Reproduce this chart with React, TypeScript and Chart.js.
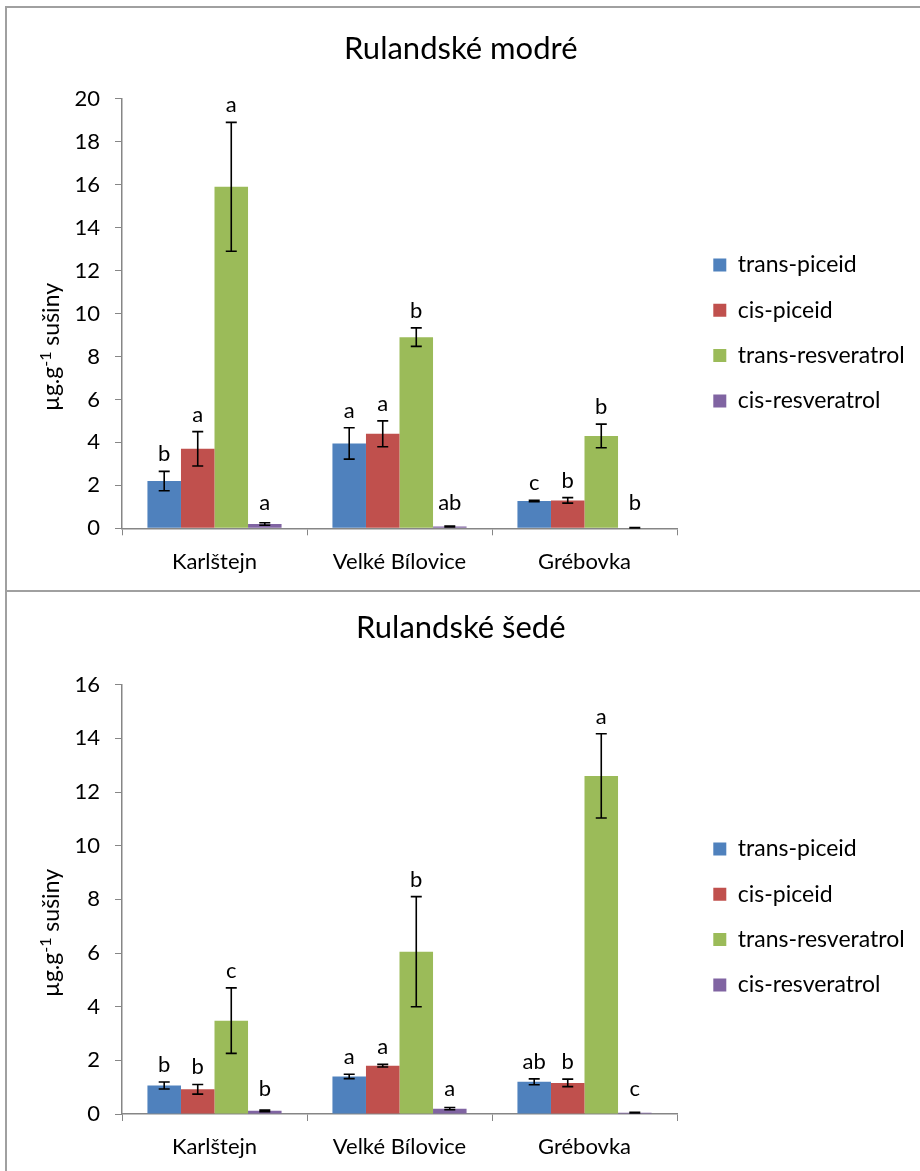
import React, { useEffect, useRef } from 'react';
import { Chart, registerables } from 'chart.js';

Chart.register(...registerables);

// ---------- data ----------
const categories = ['Karlštejn', 'Velké Bílovice', 'Grébovka'];
const seriesNames = ['trans-piceid', 'cis-piceid', 'trans-resveratrol', 'cis-resveratrol'];
const seriesColors = ['#4F81BD', '#C0504D', '#9BBB59', '#8064A2'];

// Rulandské modré
const modreTitle = 'Rulandské modré';
const modreYMax = 20;
const modreTransPiceid = [2.2, 3.95, 1.27];
const modreCisPiceid = [3.7, 4.4, 1.3];
const modreTransResveratrol = [15.9, 8.9, 4.3];
const modreCisResveratrol = [0.2, 0.08, 0.03];
const modreTransPiceidErr = [0.45, 0.73, 0.03];
const modreCisPiceidErr = [0.8, 0.6, 0.13];
const modreTransResveratrolErr = [3.0, 0.43, 0.55];
const modreCisResveratrolErr = [0.06, 0.02, 0.01];
const modreTransPiceidLetters = ['b', 'a', 'c'];
const modreCisPiceidLetters = ['a', 'a', 'b'];
const modreTransResveratrolLetters = ['a', 'b', 'b'];
const modreCisResveratrolLetters = ['a', 'ab', 'b'];

// Rulandské šedé
const sedeTitle = 'Rulandské šedé';
const sedeYMax = 16;
const sedeTransPiceid = [1.06, 1.4, 1.2];
const sedeCisPiceid = [0.92, 1.8, 1.16];
const sedeTransResveratrol = [3.48, 6.05, 12.6];
const sedeCisResveratrol = [0.12, 0.2, 0.05];
const sedeTransPiceidErr = [0.13, 0.08, 0.11];
const sedeCisPiceidErr = [0.18, 0.05, 0.14];
const sedeTransResveratrolErr = [1.22, 2.05, 1.57];
const sedeCisResveratrolErr = [0.03, 0.04, 0.01];
const sedeTransPiceidLetters = ['b', 'a', 'ab'];
const sedeCisPiceidLetters = ['b', 'a', 'b'];
const sedeTransResveratrolLetters = ['c', 'b', 'a'];
const sedeCisResveratrolLetters = ['b', 'a', 'c'];

const yStep = 2;
const yAxisTitleMain = 'µg.g';
const yAxisTitleSup = '-1';
const yAxisTitleRest = ' sušiny';

// ---------- style / layout ----------
const FAMILY = 'Lato';
const FS = 22;
const LEG_FS = 23;
const YT_FS = 23;
const TITLE_FS = 31;
const LEG_PAD = 22.3;
const BOX = 13;
const SPACER = 14;
const AXIS_COLOR = '#868686';

type Geo = {
  canvasLeft: number; canvasTop: number; canvasW: number; canvasH: number;
  areaLeft: number; areaRight: number; areaTop: number; areaBottom: number;
  titleY: number; legendY: number; yTitleY: number;
};

const modreGeo: Geo = {
  canvasLeft: 7, canvasTop: 8, canvasW: 913, canvasH: 582,
  areaLeft: 122, areaRight: 677, areaTop: 98.7, areaBottom: 528.3,
  titleY: 49, legendY: 265, yTitleY: 347,
};
const sedeGeo: Geo = {
  canvasLeft: 7, canvasTop: 592, canvasW: 913, canvasH: 579,
  areaLeft: 122, areaRight: 677, areaTop: 684.7, areaBottom: 1114,
  titleY: 628, legendY: 849, yTitleY: 933,
};

const errorAndLetterPlugin = {
  id: 'errorAndLetters',
  afterDatasetsDraw(chart: any) {
    const { ctx } = chart;
    const ys = chart.scales.y;
    chart.data.datasets.forEach((ds: any, i: number) => {
      const meta = chart.getDatasetMeta(i);
      meta.data.forEach((el: any, j: number) => {
        const v = ds.data[j];
        const e = ds.errors[j];
        const yHi = ys.getPixelForValue(v + e);
        const yLo = ys.getPixelForValue(Math.max(v - e, 0));
        ctx.save();
        ctx.strokeStyle = '#000';
        ctx.lineWidth = 1.6;
        ctx.beginPath();
        ctx.moveTo(el.x, yHi); ctx.lineTo(el.x, yLo);
        ctx.moveTo(el.x - 5.5, yHi); ctx.lineTo(el.x + 5.5, yHi);
        ctx.moveTo(el.x - 5.5, yLo); ctx.lineTo(el.x + 5.5, yLo);
        ctx.stroke();
        const ly = Math.min(yHi - 10, ys.getPixelForValue(0) - 18);
        ctx.fillStyle = '#000';
        ctx.font = `${FS}px ${FAMILY}`;
        ctx.textAlign = 'center';
        ctx.textBaseline = 'alphabetic';
        ctx.fillText(ds.letters[j], el.x, ly);
        ctx.restore();
      });
    });
  },
};

function makeYTitlePlugin(offsetY: number) {
  return {
    id: 'yTitle',
    afterDraw(chart: any) {
      const { ctx, chartArea } = chart;
      const main = `${YT_FS}px ${FAMILY}`;
      const sup = `${Math.round(YT_FS * 0.68)}px ${FAMILY}`;
      const parts: [string, string, number][] = [
        [yAxisTitleMain, main, 0],
        [yAxisTitleSup, sup, -8],
        [yAxisTitleRest, main, 0],
      ];
      let total = 0;
      const widths = parts.map(([t, f]) => { ctx.font = f; const w = ctx.measureText(t).width; total += w; return w; });
      ctx.save();
      ctx.translate(chartArea.left - 63, offsetY);
      ctx.rotate(-Math.PI / 2);
      ctx.fillStyle = '#000';
      ctx.textAlign = 'left';
      ctx.textBaseline = 'alphabetic';
      let x = -total / 2;
      parts.forEach(([t, f, dy], k) => {
        ctx.font = f;
        ctx.fillText(t, x, dy);
        x += widths[k];
      });
      ctx.restore();
    },
  };
}

type PanelProps = {
  geo: Geo; title: string; yMax: number;
  values: number[][]; errors: number[][]; letters: string[][];
};

function Panel({ geo, title, yMax, values, errors, letters }: PanelProps) {
  const ref = useRef<HTMLCanvasElement>(null);
  useEffect(() => {
    if (!ref.current) return;
    const g = geo;
    const aTop = g.areaTop - g.canvasTop;
    const aBot = g.areaBottom - g.canvasTop;
    const aLeft = g.areaLeft - g.canvasLeft;
    const aRight = g.areaRight - g.canvasLeft;
    const tY = g.titleY - g.canvasTop;
    const lY = g.legendY - g.canvasTop;
    const colH = seriesNames.length * (LEG_FS + LEG_PAD);
    const padTop = 2 * (lY - LEG_FS / 2) - LEG_PAD - g.canvasH + colH;
    const titleLH = TITLE_FS * 1.2;
    const titlePadTop = tY - padTop - titleLH / 2;
    const titlePadBottom = aTop - padTop - titleLH - titlePadTop;
    const mctx = document.createElement('canvas').getContext('2d')!;
    mctx.font = `${LEG_FS}px ${FAMILY}`;
    const maxTextW = Math.max(...seriesNames.map((s) => mctx.measureText(s).width));
    const legendW = LEG_PAD + BOX + LEG_FS / 2 + maxTextW + 10;
    const padRight = g.canvasW - aRight - SPACER - legendW;

    const chart = new Chart(ref.current, {
      type: 'bar',
      data: {
        labels: categories,
        datasets: seriesNames.map((name, i) => ({
          label: name,
          data: values[i],
          errors: errors[i],
          letters: letters[i],
          backgroundColor: seriesColors[i],
          borderWidth: 0,
          barPercentage: 1,
          categoryPercentage: 0.725,
          yAxisID: 'y',
        })) as any,
      },
      options: {
        responsive: false,
        animation: false,
        layout: { padding: { top: padTop, right: padRight, bottom: 0, left: 0 } },
        plugins: {
          title: {
            display: true,
            text: title,
            color: '#000',
            font: { family: FAMILY, size: TITLE_FS, weight: 'normal' as any, lineHeight: 1.2 },
            padding: { top: titlePadTop, bottom: titlePadBottom },
          },
          legend: {
            position: 'right',
            align: 'center',
            labels: {
              color: '#000',
              font: { family: FAMILY, size: LEG_FS },
              boxWidth: BOX,
              boxHeight: BOX,
              padding: LEG_PAD,
            },
          },
          tooltip: { enabled: false },
        },
        scales: {
          x: {
            type: 'category',
            grid: { display: true, drawOnChartArea: false, drawTicks: true, tickLength: 7, color: AXIS_COLOR, offset: true },
            border: { display: true, color: AXIS_COLOR, width: 1.5 },
            ticks: { color: '#000', font: { family: FAMILY, size: FS }, padding: 13, maxRotation: 0 },
            afterFit: (s: any) => { s.height = g.canvasH - aBot; },
          },
          y: {
            type: 'linear',
            position: 'left',
            min: 0,
            max: yMax,
            grid: { display: true, drawOnChartArea: false, drawTicks: true, tickLength: 7, color: AXIS_COLOR },
            border: { display: true, color: AXIS_COLOR, width: 1.5 },
            ticks: { stepSize: yStep, color: '#000', font: { family: FAMILY, size: FS }, padding: 15 },
            afterFit: (s: any) => { s.width = aLeft; },
          },
          gap: {
            type: 'linear',
            position: 'right',
            display: false,
            afterFit: (s: any) => { s.width = SPACER; },
          },
        },
      } as any,
      plugins: [errorAndLetterPlugin, makeYTitlePlugin(g.yTitleY - g.canvasTop)],
    });
    return () => chart.destroy();
  }, []);
  return (
    <div style={{ position: 'absolute', left: geo.canvasLeft, top: geo.canvasTop, width: geo.canvasW, height: geo.canvasH }}>
      <canvas ref={ref} width={geo.canvasW} height={geo.canvasH} style={{ display: 'block' }} />
    </div>
  );
}

export default function App() {
  return (
    <div style={{ position: 'absolute', left: 0, top: 0, width: 920, height: 1171, overflow: 'hidden', background: '#fff' }}>
      <div style={{ position: 'absolute', left: 5, top: 6, width: 930, height: 582, borderTop: '2px solid #a0a0a0', borderLeft: '2px solid #a0a0a0', borderBottom: '2px solid #a0a0a0' }} />
      <div style={{ position: 'absolute', left: 5, top: 592, width: 0, height: 600, borderLeft: '2px solid #a0a0a0' }} />
      <Panel
        geo={modreGeo}
        title={modreTitle}
        yMax={modreYMax}
        values={[modreTransPiceid, modreCisPiceid, modreTransResveratrol, modreCisResveratrol]}
        errors={[modreTransPiceidErr, modreCisPiceidErr, modreTransResveratrolErr, modreCisResveratrolErr]}
        letters={[modreTransPiceidLetters, modreCisPiceidLetters, modreTransResveratrolLetters, modreCisResveratrolLetters]}
      />
      <Panel
        geo={sedeGeo}
        title={sedeTitle}
        yMax={sedeYMax}
        values={[sedeTransPiceid, sedeCisPiceid, sedeTransResveratrol, sedeCisResveratrol]}
        errors={[sedeTransPiceidErr, sedeCisPiceidErr, sedeTransResveratrolErr, sedeCisResveratrolErr]}
        letters={[sedeTransPiceidLetters, sedeCisPiceidLetters, sedeTransResveratrolLetters, sedeCisResveratrolLetters]}
      />
    </div>
  );
}
